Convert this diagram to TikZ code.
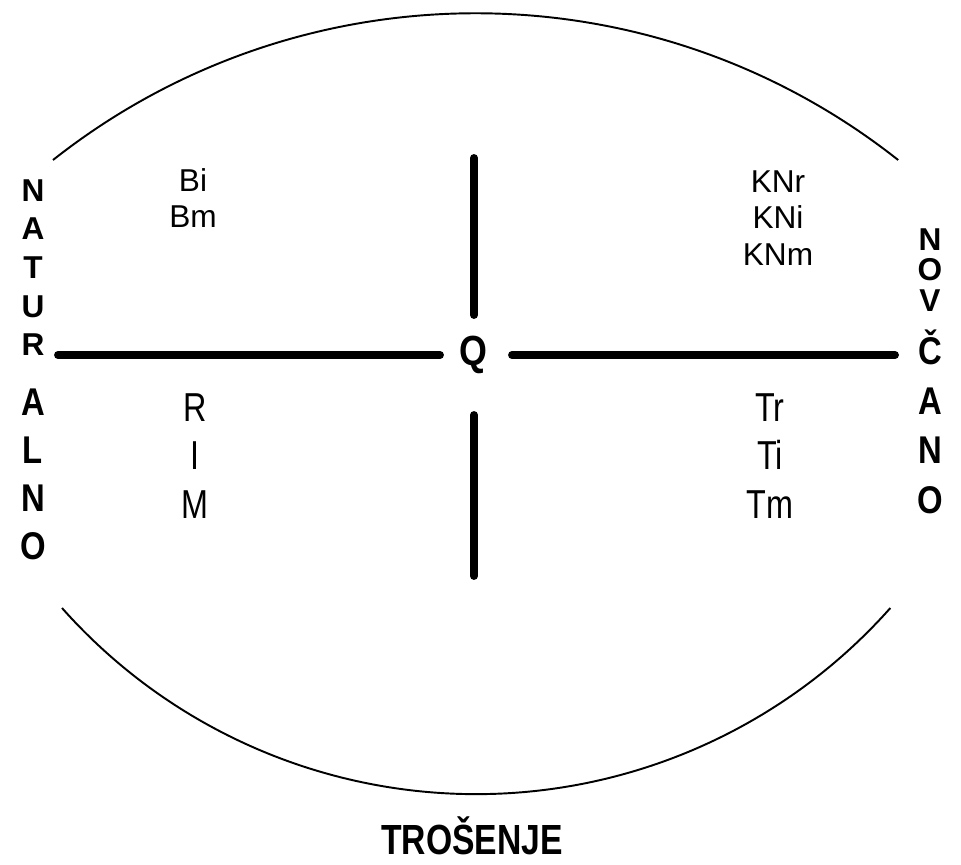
\documentclass[tikz,border=0pt]{standalone}
\usepackage{fontspec}
\setmainfont{Liberation Sans}
\usetikzlibrary{positioning}

\begin{document}
\begin{tikzpicture}[
    x=0.02cm, y=-0.02cm,
    luk/.style={line width=1.1pt},
    os/.style={line width=4.5pt, line cap=round},
    oznaka/.style={align=center, font=\fontsize{18}{20.8}\selectfont},
    usko/.style={align=center, xscale=0.8, transform shape, font=\fontsize{23}{27.5}\selectfont},
    slova/.style={align=center, inner sep=0pt, font=\bfseries\fontsize{18}{22}\selectfont},
    velikaslova/.style={align=center, inner sep=0pt, xscale=0.85, transform shape,
                        font=\bfseries\fontsize{22}{27.4}\selectfont}
  ]
    \useasboundingbox (0,0) rectangle (961,865);
    % lukovi
    \draw[luk] (53,160) arc[start angle=128.3, end angle=51.7, radius=13.64cm];
    \draw[luk] (62,608) arc[start angle=221.6, end angle=318.4, radius=11.08cm];
    % osi
    \node[velikaslova, font=\bfseries\fontsize{24}{24}\selectfont] (q) at (473,355) {Q};
    \draw[os] (58,355) -- (440,355);
    \draw[os] (512,355) -- (895,355);
    \draw[os] (474,158) -- (474,315);
    \draw[os] (474,415) -- (474,576);
    % kvadranti
    \node[oznaka] (b) at (193,198) {Bi\\Bm};
    \node[oznaka] (kn) at (778,218) {KNr\\KNi\\KNm};
    \node[usko] (rim) at (195,456) {R\\I\\M};
    \node[usko] (t) at (770,456) {Tr\\Ti\\Tm};
    % strane
    \node[slova] (nat1) at (33,267.5) {N\\A\\T\\U\\R};
    \node[velikaslova] (nat2) at (33,474.5) {A\\L\\N\\O};
    \node[slova, font=\bfseries\fontsize{18}{17.5}\selectfont] (nov1) at (930,270) {N\\O\\V};
    \node[velikaslova, font=\bfseries\fontsize{22}{28.3}\selectfont] (nov2) at (930,422) {Č\\A\\N\\O};
    \node[velikaslova, xscale=0.94, font=\bfseries\fontsize{24}{24}\selectfont] (tros) at (472,836) {TROŠENJE};
  \end{tikzpicture}
\end{document}
